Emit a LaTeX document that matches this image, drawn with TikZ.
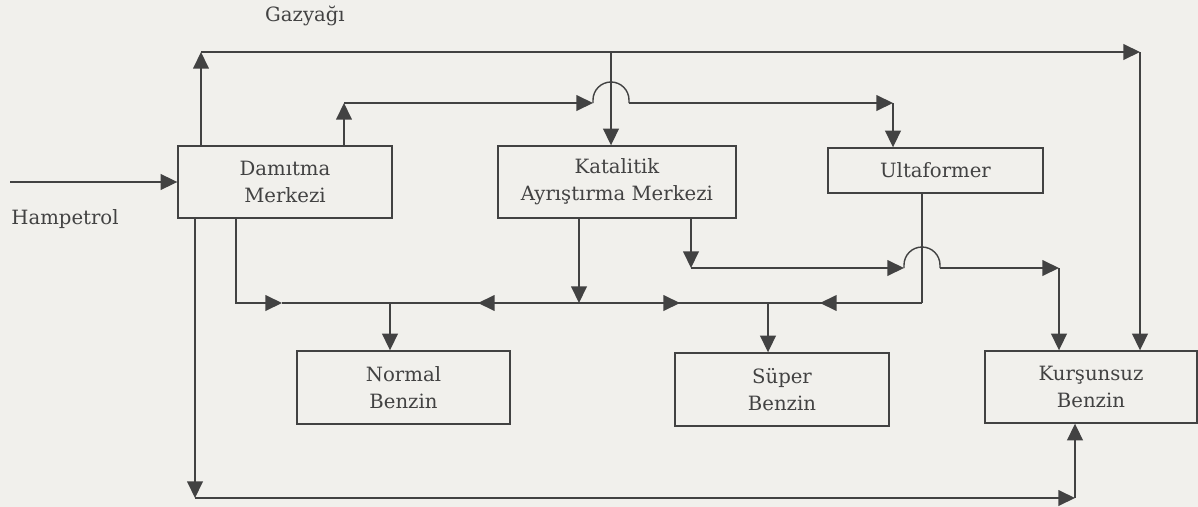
\documentclass[tikz,border=0pt]{standalone}
\usepackage{fontspec}
\setmainfont{DejaVu Serif}
\usepackage{tikz}
\usetikzlibrary{arrows.meta}
\definecolor{ink}{HTML}{424242}
\definecolor{paper}{HTML}{F1F0EC}

\begin{document}
\begin{tikzpicture}[x=0.02cm,y=-0.02cm,
  box/.style={draw=ink,line width=0.8pt,text=ink,align=center,inner sep=0pt,font=\fontsize{11.2}{15.4}\selectfont},
  lbl/.style={text=ink,font=\fontsize{11.2}{15.4}\selectfont},
  pipe/.style={draw=ink,line width=0.8pt},
  flow/.style={pipe,-{Triangle[length=9.5pt,width=9pt]}}]
\path[use as bounding box,fill=paper] (0,0) rectangle (1198,507);
% units
\node[box,minimum width=4.28cm,minimum height=1.44cm] (dam) at (285,182) {Damıtma\\Merkezi};
\node[box,minimum width=4.76cm,minimum height=1.44cm] (kat) at (617,182) {Katalitik\\Ayrıştırma Merkezi};
\node[box,minimum width=4.3cm,minimum height=0.9cm] (ult) at (935.5,170.5) {Ultaformer};
\node[box,minimum width=4.26cm,minimum height=1.46cm] (nor) at (403.5,387.5) {Normal\\Benzin};
\node[box,minimum width=4.28cm,minimum height=1.46cm] (sup) at (782,389.5) {Süper\\Benzin};
\node[box,minimum width=4.24cm,minimum height=1.44cm] (kur) at (1091,387) {Kurşunsuz\\Benzin};
\node[lbl] (ham) at (65,219) {Hampetrol};
\node[lbl] (gaz) at (305,16) {Gazyağı};
% crude oil in
\coordinate (in) at (10,182);
\draw[flow] (in) -- (dam.west);
% kerosene line on top
\coordinate (g1) at (201,52);
\coordinate (g2) at (1140,52);
\coordinate (k1) at (611,52);
\draw[flow] (dam.north -| g1) -- (g1);
\draw[flow] (g1) -- (g2);
\draw[flow] (g2) -- (g2 |- kur.north);
\draw[flow] (k1) -- (k1 |- kat.north);
% second line to ultaformer
\coordinate (d1) at (344,103);
\coordinate (h1a) at (593,103);
\coordinate (h1b) at (629,103);
\coordinate (u1) at (893,103);
\draw[flow] (d1 |- dam.north) -- (d1);
\draw[flow] (d1) -- (h1a);
\draw[pipe] (h1a) -- ++(0,-3) arc[start angle=180,end angle=0,radius=0.36cm] -- (h1b);
\draw[flow] (h1b) -- (u1);
\draw[flow] (u1) -- (u1 |- ult.north);
% blending line
\coordinate (m1) at (236,303);
\coordinate (m2) at (282,303);
\coordinate (n1) at (478,303);
\coordinate (n2) at (390,303);
\coordinate (k2) at (579,303);
\coordinate (s1) at (680,303);
\coordinate (s2) at (820,303);
\coordinate (s3) at (768,303);
\coordinate (u2) at (922,303);
\draw[flow] (m1 |- dam.south) -- (m1) -- (m2);
\draw[pipe] (m2) -- (u2);
\draw[flow] (k2 |- kat.south) -- (k2);
\draw[flow] (k2) -- (n1);
\draw[flow] (k2) -- (s1);
\draw[pipe] (u2 |- ult.south) -- (u2);
\draw[flow] (u2) -- (s2);
\draw[flow] (n2) -- (n2 |- nor.north);
\draw[flow] (s3) -- (s3 |- sup.north);
% katalitik to kursunsuz
\coordinate (k3) at (691,268);
\coordinate (h2a) at (904,268);
\coordinate (h2b) at (940,268);
\coordinate (k4) at (1059,268);
\draw[flow] (k3 |- kat.south) -- (k3);
\draw[flow] (k3) -- (h2a);
\draw[pipe] (h2a) -- ++(0,-3) arc[start angle=180,end angle=0,radius=0.36cm] -- (h2b);
\draw[flow] (h2b) -- (k4);
\draw[flow] (k4) -- (k4 |- kur.north);
% bottom line
\coordinate (b1) at (195,498);
\coordinate (b2) at (1075,498);
\draw[flow] (b1 |- dam.south) -- (b1);
\draw[flow] (b1) -- (b2);
\draw[flow] (b2) -- (b2 |- kur.south);
\end{tikzpicture}
\end{document}
